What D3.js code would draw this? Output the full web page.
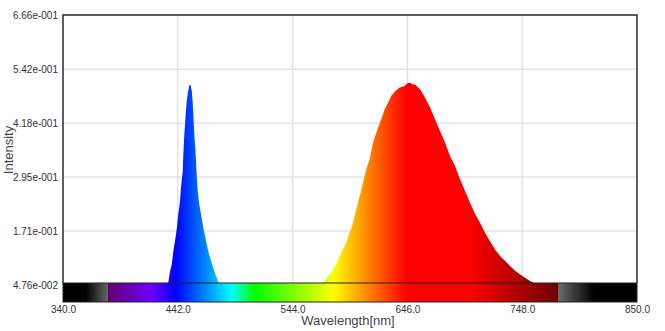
<!DOCTYPE html>
<html>
<head>
<meta charset="utf-8">
<script src="https://cdn.jsdelivr.net/npm/d3@7"></script>
<style>
  body { margin: 0; background: #fff; }
  svg text { font-family: "Liberation Sans", Arial, sans-serif; }
</style>
</head>
<body>
<svg id="chart-svg"></svg>
<script>
const width = 665
const height = 331
const plotLeft = 63
const plotRight = 637
const plotTop = 15
const barTop = 283
const plotBottom = 302

// spectrum (nm, intensity)
const wavelengths = [340, 430, 433.6, 435.1, 436.6, 438.0, 439.5, 441.0, 442.4, 444.0, 444.8, 446.4, 446.9, 447.8, 449.0, 449.9,
  451.1, 452.2, 453.5, 454.3, 455.2, 455.8, 456.7, 457.9, 458.8, 459.7, 461.1, 463.2, 464.7, 467.1, 469.1, 472.1, 475.0, 478.0, 480,
  570, 573.1, 578.4, 582.8, 587.3, 591.7, 594.7, 597.7, 600.6, 603.6, 606.5, 609.5, 612.5, 615.4, 619.3, 622.8, 625.8, 628.8,
  631.7, 635.3, 639.2, 643.0, 646.5, 648.3, 651.0, 652.7, 657.2, 661.6, 666.1, 670.5, 675.0, 679.4, 683.8, 688.3, 692.7, 697.2,
  701.6, 706.1, 710.5, 714.9, 719.4, 723.8, 728.3, 732.7, 737.2, 741.6, 746.0, 750.5, 754.9, 757.9, 762, 850]
const intensity = [0.0476, 0.0476, 0.054, 0.079, 0.094, 0.125, 0.148, 0.174, 0.209, 0.239, 0.270, 0.308, 0.346, 0.392, 0.438, 0.468,
  0.491, 0.505, 0.505, 0.495, 0.468, 0.438, 0.392, 0.346, 0.300, 0.262, 0.232, 0.201, 0.178, 0.148, 0.125, 0.098, 0.075, 0.054, 0.0476,
  0.0476, 0.059, 0.076, 0.095, 0.122, 0.145, 0.167, 0.190, 0.221, 0.251, 0.282, 0.313, 0.336, 0.374, 0.404, 0.427, 0.450, 0.465,
  0.481, 0.492, 0.500, 0.503, 0.510, 0.511, 0.507, 0.507, 0.496, 0.477, 0.454, 0.427, 0.400, 0.374, 0.343, 0.320, 0.290, 0.263,
  0.236, 0.210, 0.190, 0.167, 0.148, 0.129, 0.114, 0.103, 0.091, 0.080, 0.072, 0.064, 0.057, 0.053, 0.0476, 0.0476]

const xTicks = [340, 442, 544, 646, 748, 850]
const yTicks = [0.0476, 0.171, 0.295, 0.418, 0.542, 0.666]
const yTickLabels = ['4.76e-002', '1.71e-001', '2.95e-001', '4.18e-001', '5.42e-001', '6.66e-001']

// colours of the wavelength bar
const colorNm = [340, 360, 379.9, 380, 420, 440, 490, 510, 580, 645, 700, 780, 780.1, 812, 850]
const colorHex = ['#000000', '#000000', '#666666', '#660070', '#6a00ff', '#0000ff', '#00ffff', '#00ff00', '#ffff00',
  '#ff0000', '#ff0000', '#6e0000', '#6a6a6a', '#000000', '#000000']

const svg = d3.select('svg#chart-svg').attr('width', width).attr('height', height)

const x = d3.scaleLinear().domain([340, 850]).range([plotLeft, plotRight])
const y = d3.scaleLinear().domain([0.0476, 0.666]).range([285, plotTop])

//gradient shared by the bar and the spectrum fill
const defs = svg.append('defs')
const grad = defs.append('linearGradient')
  .attr('id', 'spec')
  .attr('gradientUnits', 'userSpaceOnUse')
  .attr('x1', x(340)).attr('x2', x(850)).attr('y1', 0).attr('y2', 0)
grad.selectAll('stop').data(colorNm).enter().append('stop')
  .attr('offset', d => (d - 340) / 510)
  .attr('stop-color', (d, i) => colorHex[i])

defs.append('clipPath').attr('id', 'plot-clip')
  .append('rect').attr('x', plotLeft).attr('y', plotTop).attr('width', plotRight - plotLeft).attr('height', barTop - plotTop)

//grid
svg.append('g').selectAll('line').data(yTicks.slice(1, -1)).enter().append('line')
  .attr('x1', plotLeft).attr('x2', plotRight)
  .attr('y1', d => y(d)).attr('y2', d => y(d))
  .attr('stroke', '#e3e3e3').attr('stroke-width', 1.5)
svg.append('g').selectAll('line').data(xTicks.slice(1, -1)).enter().append('line')
  .attr('x1', d => x(d)).attr('x2', d => x(d))
  .attr('y1', plotTop).attr('y2', barTop)
  .attr('stroke', '#e3e3e3').attr('stroke-width', 1.5)

//spectrum
const spectrum = wavelengths.map((w, i) => ({ wl: w, v: intensity[i] }))
const area = d3.area()
  .x(d => x(d.wl))
  .y0(y(0.0476))
  .y1(d => y(d.v))
svg.append('path')
  .datum(spectrum)
  .attr('clip-path', 'url(#plot-clip)')
  .attr('fill', 'url(#spec)')
  .attr('d', area)

//colour bar
svg.append('rect')
  .attr('x', plotLeft).attr('y', barTop)
  .attr('width', plotRight - plotLeft).attr('height', plotBottom - barTop)
  .attr('fill', 'url(#spec)')
  .attr('stroke', '#222').attr('stroke-width', 1)

//frame
svg.append('path')
  .attr('d', `M${plotLeft},${barTop}V${plotTop}H${plotRight}V${barTop}`)
  .attr('fill', 'none').attr('stroke', '#2a2a2a').attr('stroke-width', 1.5)

//axes
const yAxis = svg.append('g').attr('transform', `translate(${plotLeft},0)`)
  .call(d3.axisLeft(y).tickValues(yTicks).tickFormat((d, i) => yTickLabels[i]).tickSize(0).tickPadding(5))
yAxis.select('.domain').remove()
yAxis.selectAll('text').attr('font-size', 10).attr('fill', '#333').style('font-family', '"Liberation Sans", Arial, sans-serif')

const xAxis = svg.append('g').attr('transform', `translate(0,${plotBottom})`)
  .call(d3.axisBottom(x).tickValues(xTicks).tickFormat(d3.format('.1f')).tickSize(0).tickPadding(4))
xAxis.select('.domain').remove()
xAxis.selectAll('text').attr('font-size', 10).attr('fill', '#333').style('font-family', '"Liberation Sans", Arial, sans-serif')

svg.append('text')
  .attr('x', (plotLeft + plotRight) / 2 - 2).attr('y', 325)
  .attr('text-anchor', 'middle')
  .attr('font-size', 13).attr('fill', '#444')
  .text('Wavelength[nm]')

svg.append('text')
  .attr('transform', `translate(13,150) rotate(-90)`)
  .attr('text-anchor', 'middle')
  .attr('font-size', 13).attr('fill', '#444')
  .text('Intensity')
</script>
</body>
</html>
